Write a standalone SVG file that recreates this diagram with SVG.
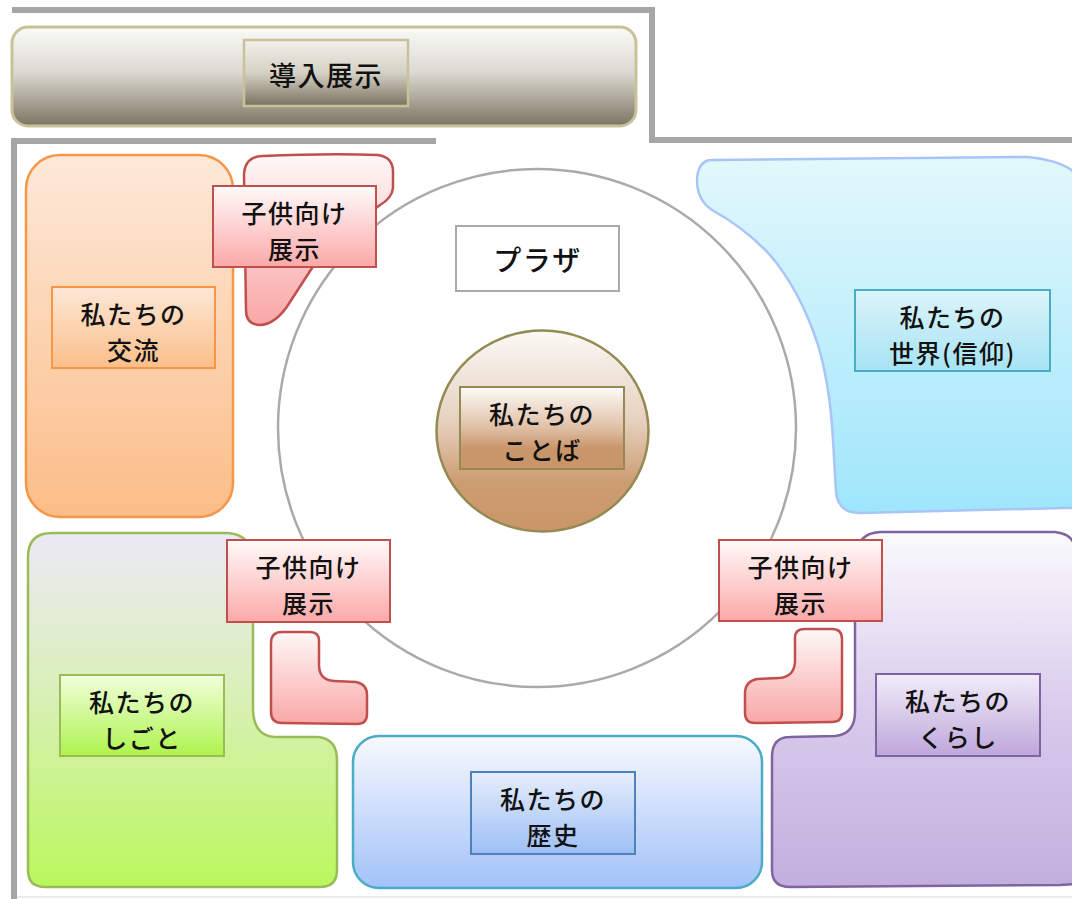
<svg xmlns="http://www.w3.org/2000/svg" width="1072" height="899" viewBox="0 0 1072 899">
<defs>
<linearGradient id="gBanner" x1="0" y1="0" x2="0" y2="1"><stop offset="0" stop-color="#fafaf8"/><stop offset="0.45" stop-color="#dcdad2"/><stop offset="1" stop-color="#7c7461"/></linearGradient>
<linearGradient id="gBannerIn" x1="0" y1="0" x2="0" y2="1"><stop offset="0" stop-color="#f3f1ec"/><stop offset="0.5" stop-color="#d4d0c4"/><stop offset="1" stop-color="#797260"/></linearGradient>
<linearGradient id="gOrange" x1="0" y1="0" x2="0" y2="1"><stop offset="0" stop-color="#fde9d9"/><stop offset="1" stop-color="#fbbd87"/></linearGradient>
<linearGradient id="gOrangeIn" x1="0" y1="0" x2="0" y2="1"><stop offset="0" stop-color="#fde7d6"/><stop offset="1" stop-color="#fbbf8a"/></linearGradient>
<linearGradient id="gRed" x1="0" y1="0" x2="0" y2="1"><stop offset="0" stop-color="#fff8f8"/><stop offset="1" stop-color="#f9a7a6"/></linearGradient>
<linearGradient id="gRedLbl" x1="0" y1="0" x2="0" y2="1"><stop offset="0" stop-color="#fffafa"/><stop offset="1" stop-color="#fba9a8"/></linearGradient>
<linearGradient id="gCyan" x1="0" y1="0" x2="0" y2="1"><stop offset="0" stop-color="#e2f8fc"/><stop offset="1" stop-color="#9fe6fb"/></linearGradient>
<linearGradient id="gCyanIn" x1="0" y1="0" x2="0" y2="1"><stop offset="0" stop-color="#dcf4fa"/><stop offset="1" stop-color="#a6e3f3"/></linearGradient>
<linearGradient id="gBrown" x1="0" y1="0" x2="0" y2="1"><stop offset="0" stop-color="#fbf9f6"/><stop offset="0.45" stop-color="#e6d1bf"/><stop offset="0.75" stop-color="#cd9d72"/><stop offset="1" stop-color="#ca9669"/></linearGradient>
<linearGradient id="gBrownIn" x1="0" y1="0" x2="0" y2="1"><stop offset="0" stop-color="#fdfbf9"/><stop offset="0.5" stop-color="#e0bfa5"/><stop offset="0.75" stop-color="#c9966b"/><stop offset="1" stop-color="#c99569"/></linearGradient>
<linearGradient id="gGreen" x1="0" y1="0" x2="0" y2="1"><stop offset="0" stop-color="#ebe9f5"/><stop offset="0.4" stop-color="#dcefc0"/><stop offset="1" stop-color="#b9f85c"/></linearGradient>
<linearGradient id="gGreenIn" x1="0" y1="0" x2="0" y2="1"><stop offset="0" stop-color="#f1ffdc"/><stop offset="1" stop-color="#aef34d"/></linearGradient>
<linearGradient id="gPurple" x1="0" y1="0" x2="0" y2="1"><stop offset="0" stop-color="#fafafd"/><stop offset="0.5" stop-color="#d9cbec"/><stop offset="1" stop-color="#c3aede"/></linearGradient>
<linearGradient id="gPurpleIn" x1="0" y1="0" x2="0" y2="1"><stop offset="0" stop-color="#f1ecf9"/><stop offset="1" stop-color="#bea7db"/></linearGradient>
<linearGradient id="gBlue" x1="0" y1="0" x2="0" y2="1"><stop offset="0" stop-color="#f8f9fe"/><stop offset="1" stop-color="#a2c2f8"/></linearGradient>
<linearGradient id="gBlueIn" x1="0" y1="0" x2="0" y2="1"><stop offset="0" stop-color="#e6eefc"/><stop offset="1" stop-color="#9ebff5"/></linearGradient>
</defs>
<style>
text{font-family:"Noto Sans CJK JP","Noto Sans",sans-serif;font-size:25px;font-weight:500;letter-spacing:1.5px;fill:#111;text-anchor:middle;dominant-baseline:central}
.wall{fill:none;stroke:#a6a6a6;stroke-width:6}
.red{fill:url(#gRed);stroke:#c0504d;stroke-width:2.5}
.redlbl{fill:url(#gRedLbl);stroke:#c0504d;stroke-width:2}
</style>
<rect width="1072" height="899" fill="#ffffff"/>
<g id="walls">
<path class="wall" d="M12,10 H652 V140 H1072"/>
<path class="wall" d="M436,141 H14 V899"/>
<line x1="17" y1="897" x2="1072" y2="897" stroke="#ececec" stroke-width="2"/>
</g>
<g id="plaza-circle">
<circle cx="537" cy="428" r="259" fill="#ffffff" stroke="#aaaaaa" stroke-width="2.5"/>
</g>
<g id="plaza">
<rect x="456" y="226" width="163" height="65" fill="#ffffff" stroke="#aaaaaa" stroke-width="2"/>
<text x="537.5" y="259" style="font-size:28px">プラザ</text>
</g>
<g id="kotoba">
<ellipse cx="542.5" cy="431" rx="106" ry="100.5" fill="url(#gBrown)" stroke="#948a54" stroke-width="2.5"/>
<rect x="460" y="387" width="164" height="82" fill="url(#gBrownIn)" stroke="#948a54" stroke-width="2"/>
<text x="542" y="413">私たちの</text>
<text x="542" y="449">ことば</text>
</g>
<g id="intro">
<rect x="12" y="27" width="624" height="99" rx="16" fill="url(#gBanner)" stroke="#c9c19a" stroke-width="3"/>
<rect x="244" y="40" width="164" height="66" fill="url(#gBannerIn)" stroke="#c9c19a" stroke-width="2.5"/>
<text x="326" y="74" style="font-size:27px">導入展示</text>
</g>
<g id="koryu">
<rect x="26" y="155" width="207" height="362" rx="34" fill="url(#gOrange)" stroke="#f79646" stroke-width="2.5"/>
<rect x="52" y="287" width="163" height="81" fill="url(#gOrangeIn)" stroke="#f79646" stroke-width="2"/>
<text x="133.5" y="313">私たちの</text>
<text x="133.5" y="349">交流</text>
</g>
<g id="sekai">
<path d="M712,160 L1027,157 Q1060,160 1074,172 L1074,508 L1063,508 L860,513 Q838,513 836,492 L833,440 Q830,385 818,345 Q800,290 770,255 Q745,228 712,210 Q697,200 697,180 Q698,160 712,160 Z" fill="url(#gCyan)" stroke="#a9c4f7" stroke-width="2.5"/>
<rect x="855" y="290" width="195" height="81" fill="url(#gCyanIn)" stroke="#4bacc6" stroke-width="2"/>
<text x="952.5" y="316">私たちの</text>
<text x="952.5" y="352">世界(信仰)</text>
</g>
<g id="shigoto">
<path d="M52,533 L228,533 Q252,535 253,560 L253,710 Q254,736 275,737 L318,737 Q337,739 337,760 L337,870 Q337,887 320,887 L45,887 Q28,887 28,870 L28,557 Q28,533 52,533 Z" fill="url(#gGreen)" stroke="#9bbb59" stroke-width="2.5"/>
<rect x="60" y="675" width="164" height="81" fill="url(#gGreenIn)" stroke="#9bbb59" stroke-width="2"/>
<text x="142" y="701">私たちの</text>
<text x="142" y="737">しごと</text>
</g>
<g id="kurashi">
<path d="M880,532 L1055,532 Q1072,534 1074,545 L1074,884 L1060,885 L790,887 Q772,887 772,870 L772,755 Q773,737 790,737 L835,736 Q855,734 855,712 L855,560 Q856,533 880,532 Z" fill="url(#gPurple)" stroke="#8064a2" stroke-width="2.5"/>
<rect x="876" y="674" width="164" height="82" fill="url(#gPurpleIn)" stroke="#8064a2" stroke-width="2"/>
<text x="958" y="700">私たちの</text>
<text x="958" y="736">くらし</text>
</g>
<g id="rekishi">
<rect x="353" y="736" width="409" height="152" rx="26" fill="url(#gBlue)" stroke="#4bacc6" stroke-width="2.5"/>
<rect x="471" y="772" width="164" height="82" fill="url(#gBlueIn)" stroke="#4f81bd" stroke-width="2"/>
<text x="553" y="798">私たちの</text>
<text x="553" y="834">歴史</text>
</g>
<g id="kids-top">
<path class="red" d="M262,156 Q330,153 378,155 Q393,157 393,172 L393,188 Q392,198 380,205 L360,220 Q330,245 312,268 L290,302 Q276,325 259,325 Q246,324 246,310 L244,176 Q244,157 262,156 Z"/>
<rect class="redlbl" x="213" y="186" width="163" height="81"/>
<text x="294.5" y="212">子供向け</text>
<text x="294.5" y="248">展示</text>
</g>
<g id="kids-left">
<path class="red" d="M282,632 L310,632 Q319,632 319,641 L319,665 Q319,680 334,681 L356,682 Q367,684 367,695 L367,714 Q367,724 357,724 L282,723 Q271,723 271,712 L271,643 Q271,632 282,632 Z"/>
<rect class="redlbl" x="227" y="540" width="163" height="82"/>
<text x="308.5" y="566">子供向け</text>
<text x="308.5" y="602">展示</text>
</g>
<g id="kids-right">
<path class="red" d="M832,629 L804,629 Q795,629 795,638 L795,662 Q794,677 779,678 L757,679 Q746,681 745,692 L745,713 Q745,723 755,723 L832,722 Q842,722 842,712 L842,639 Q842,629 832,629 Z"/>
<rect class="redlbl" x="719" y="540" width="163" height="81"/>
<text x="800.5" y="566">子供向け</text>
<text x="800.5" y="602">展示</text>
</g>
</svg>
